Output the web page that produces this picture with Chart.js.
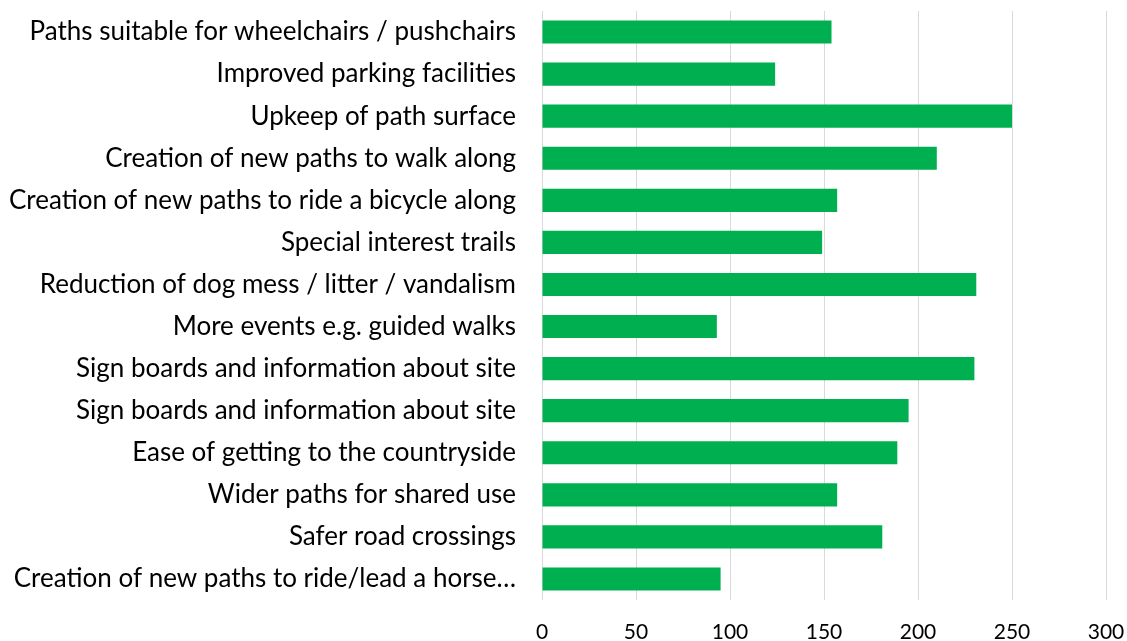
<!DOCTYPE html>
<html>
<head>
<meta charset="utf-8">
<script src="https://cdn.jsdelivr.net/npm/chart.js@4.4.0/dist/chart.umd.min.js"></script>
<style>
  html, body { margin: 0; padding: 0; background: #fff; }
  #wrap { width: 1127px; height: 641px; position: relative; }
</style>
</head>
<body>
<div id="wrap"><canvas id="improvementsChart"></canvas></div>
<script>
// Categories top to bottom, as shown
const categories = [
    'Paths suitable for wheelchairs / pushchairs',
    'Improved parking facilities',
    'Upkeep of path surface',
    'Creation of new paths to walk along',
    'Creation of new paths to ride a bicycle along',
    'Special interest trails',
    'Reduction of dog mess / litter / vandalism',
    'More events e.g. guided walks',
    'Sign boards and information about site',
    'Sign boards and information about site',
    'Ease of getting to the countryside',
    'Wider paths for shared use',
    'Safer road crossings',
    'Creation of new paths to ride/lead a horse…'
];

const responses = [154, 124, 250, 210, 157, 149, 231, 93, 230, 195, 189, 157, 181, 95];

const xTicks = [0, 50, 100, 150, 200, 250, 300];

const FONT = 'Lato, "Open Sans", sans-serif';

const ctx = document.getElementById('improvementsChart');

new Chart(ctx, {
    type: 'bar',
    data: {
        labels: categories,
        datasets: [{
            data: responses,
            backgroundColor: '#00B050',
            borderWidth: 0,
            barPercentage: 0.55,
            categoryPercentage: 1
        }]
    },
    options: {
        indexAxis: 'y',
        responsive: true,
        maintainAspectRatio: false,
        animation: false,
        layout: {
            padding: { top: 11, right: 21, bottom: 0, left: 0 }
        },
        plugins: {
            legend: { display: false },
            tooltip: { enabled: false }
        },
        scales: {
            x: {
                min: xTicks[0],
                max: xTicks[xTicks.length - 1],
                afterBuildTicks: (scale) => {
                    scale.ticks = xTicks.map(v => ({ value: v }));
                },
                afterFit: (scale) => {
                    // keep the plot edges where the reference has them
                    scale.height = 41;
                    scale.paddingLeft = 0;
                    scale.paddingRight = 0;
                },
                grid: {
                    color: '#d9d9d9',
                    lineWidth: 1,
                    drawTicks: false
                },
                border: { display: false },
                ticks: {
                    color: '#000',
                    padding: 20,
                    font: { family: FONT, size: 21 }
                }
            },
            y: {
                afterFit: (scale) => {
                    scale.width = 542;
                    scale.paddingTop = 0;
                    scale.paddingBottom = 0;
                },
                grid: { display: false, drawTicks: false },
                border: { display: false },
                ticks: {
                    color: '#000',
                    padding: 26,
                    autoSkip: false,
                    font: { family: FONT, size: 26 }
                }
            }
        }
    }
});
</script>
</body>
</html>
